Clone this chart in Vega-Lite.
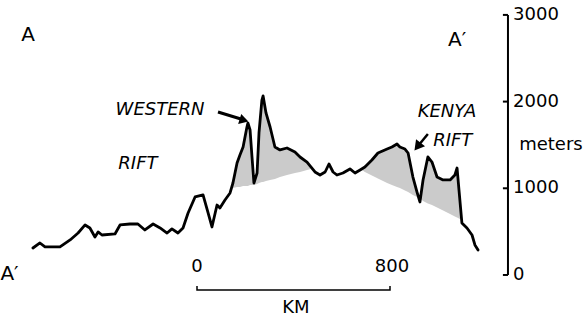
{
  "$schema": "https://vega.github.io/schema/vega-lite/v6.json",
  "width": 585,
  "height": 321,
  "padding": 0,
  "autosize": {"type": "none"},
  "background": "white",
  "config": {"view": {"stroke": null}},
  "datasets": {
    "profile": [
      {"km": -680, "m": 311}, {"km": -651, "m": 369}, {"km": -630, "m": 323}, {"km": -568, "m": 323},
      {"km": -526, "m": 404}, {"km": -493, "m": 484}, {"km": -464, "m": 577}, {"km": -444, "m": 542},
      {"km": -423, "m": 438}, {"km": -410, "m": 496}, {"km": -394, "m": 461}, {"km": -340, "m": 473},
      {"km": -319, "m": 577}, {"km": -278, "m": 588}, {"km": -245, "m": 588}, {"km": -216, "m": 519},
      {"km": -182, "m": 588}, {"km": -153, "m": 542}, {"km": -124, "m": 484}, {"km": -104, "m": 531},
      {"km": -79, "m": 484}, {"km": -58, "m": 542}, {"km": -37, "m": 715}, {"km": -8, "m": 900},
      {"km": 25, "m": 923}, {"km": 46, "m": 715}, {"km": 62, "m": 554}, {"km": 83, "m": 807},
      {"km": 95, "m": 773}, {"km": 116, "m": 865}, {"km": 137, "m": 946}, {"km": 149, "m": 1061},
      {"km": 166, "m": 1292}, {"km": 178, "m": 1384}, {"km": 191, "m": 1476}, {"km": 207, "m": 1707},
      {"km": 211, "m": 1753}, {"km": 220, "m": 1672}, {"km": 228, "m": 1361}, {"km": 236, "m": 1061},
      {"km": 249, "m": 1176}, {"km": 257, "m": 1638}, {"km": 269, "m": 2018}, {"km": 274, "m": 2065},
      {"km": 286, "m": 1869}, {"km": 303, "m": 1707}, {"km": 323, "m": 1476}, {"km": 344, "m": 1442},
      {"km": 373, "m": 1465}, {"km": 406, "m": 1419}, {"km": 427, "m": 1361}, {"km": 456, "m": 1303},
      {"km": 489, "m": 1188}, {"km": 510, "m": 1153}, {"km": 531, "m": 1188}, {"km": 547, "m": 1280},
      {"km": 564, "m": 1188}, {"km": 580, "m": 1153}, {"km": 605, "m": 1176}, {"km": 634, "m": 1223},
      {"km": 655, "m": 1176}, {"km": 676, "m": 1211}, {"km": 696, "m": 1246}, {"km": 725, "m": 1326},
      {"km": 750, "m": 1407}, {"km": 788, "m": 1453}, {"km": 808, "m": 1476}, {"km": 829, "m": 1511},
      {"km": 841, "m": 1476}, {"km": 862, "m": 1453}, {"km": 875, "m": 1407}, {"km": 895, "m": 1130},
      {"km": 912, "m": 957}, {"km": 924, "m": 842}, {"km": 937, "m": 1096}, {"km": 957, "m": 1361},
      {"km": 974, "m": 1303}, {"km": 995, "m": 1130}, {"km": 1020, "m": 1096}, {"km": 1049, "m": 1096},
      {"km": 1069, "m": 1153}, {"km": 1078, "m": 1234}, {"km": 1086, "m": 980}, {"km": 1098, "m": 600},
      {"km": 1119, "m": 542}, {"km": 1140, "m": 461}, {"km": 1152, "m": 346}, {"km": 1165, "m": 288}
    ],
    "shade": [
      {"seg": "W", "km": 141, "top": 1003, "bottom": 1003},
      {"seg": "W", "km": 149, "top": 1061, "bottom": 1003},
      {"seg": "W", "km": 166, "top": 1292, "bottom": 1015},
      {"seg": "W", "km": 178, "top": 1384, "bottom": 1015},
      {"seg": "W", "km": 191, "top": 1476, "bottom": 1027},
      {"seg": "W", "km": 207, "top": 1707, "bottom": 1027},
      {"seg": "W", "km": 211, "top": 1753, "bottom": 1027},
      {"seg": "W", "km": 220, "top": 1672, "bottom": 1038},
      {"seg": "W", "km": 228, "top": 1361, "bottom": 1038},
      {"seg": "W", "km": 236, "top": 1061, "bottom": 1038},
      {"seg": "W", "km": 249, "top": 1176, "bottom": 1050},
      {"seg": "W", "km": 257, "top": 1638, "bottom": 1061},
      {"seg": "W", "km": 269, "top": 2018, "bottom": 1073},
      {"seg": "W", "km": 274, "top": 2065, "bottom": 1073},
      {"seg": "W", "km": 286, "top": 1869, "bottom": 1084},
      {"seg": "W", "km": 303, "top": 1707, "bottom": 1096},
      {"seg": "W", "km": 323, "top": 1476, "bottom": 1107},
      {"seg": "W", "km": 344, "top": 1442, "bottom": 1130},
      {"seg": "W", "km": 373, "top": 1465, "bottom": 1153},
      {"seg": "W", "km": 406, "top": 1419, "bottom": 1176},
      {"seg": "W", "km": 427, "top": 1361, "bottom": 1188},
      {"seg": "W", "km": 456, "top": 1303, "bottom": 1211},
      {"seg": "W", "km": 472, "top": 1223, "bottom": 1223},
      {"seg": "C", "km": 684, "top": 1210, "bottom": 1210},
      {"seg": "C", "km": 696, "top": 1246, "bottom": 1188},
      {"seg": "C", "km": 725, "top": 1326, "bottom": 1148},
      {"seg": "C", "km": 750, "top": 1407, "bottom": 1113},
      {"seg": "C", "km": 788, "top": 1453, "bottom": 1061},
      {"seg": "C", "km": 808, "top": 1476, "bottom": 1038},
      {"seg": "C", "km": 829, "top": 1511, "bottom": 1015},
      {"seg": "C", "km": 841, "top": 1476, "bottom": 1003},
      {"seg": "C", "km": 862, "top": 1453, "bottom": 975},
      {"seg": "C", "km": 875, "top": 1407, "bottom": 957},
      {"seg": "C", "km": 895, "top": 1130, "bottom": 923},
      {"seg": "C", "km": 912, "top": 957, "bottom": 900},
      {"seg": "C", "km": 920, "top": 888, "bottom": 888},
      {"seg": "K", "km": 928, "top": 877, "bottom": 877},
      {"seg": "K", "km": 937, "top": 1096, "bottom": 854},
      {"seg": "K", "km": 957, "top": 1361, "bottom": 825},
      {"seg": "K", "km": 974, "top": 1303, "bottom": 807},
      {"seg": "K", "km": 995, "top": 1130, "bottom": 779},
      {"seg": "K", "km": 1020, "top": 1096, "bottom": 744},
      {"seg": "K", "km": 1049, "top": 1096, "bottom": 704},
      {"seg": "K", "km": 1069, "top": 1153, "bottom": 675},
      {"seg": "K", "km": 1078, "top": 1234, "bottom": 663},
      {"seg": "K", "km": 1086, "top": 980, "bottom": 652},
      {"seg": "K", "km": 1094, "top": 727, "bottom": 640},
      {"seg": "K", "km": 1098, "top": 625, "bottom": 625}
    ],
    "scalebar": [
      {"i": 1, "km": 0, "m": -127},
      {"i": 2, "km": 0, "m": -173},
      {"i": 3, "km": 800, "m": -173},
      {"i": 4, "km": 800, "m": -127}
    ],
    "axisline": [{"km": 1289, "lo": 0, "hi": 3000}],
    "ticks": [{"v": 0}, {"v": 1000}, {"v": 2000}, {"v": 3000}],
    "bigletters": [
      {"t": "A", "km": -700, "m": 2768},
      {"t": "A′", "km": 1078, "m": 2710}
    ],
    "edgeletter": [
      {"t": "A′", "km": -815, "m": 12}
    ],
    "plain": [
      {"t": "0", "km": 0, "m": 92},
      {"t": "800", "km": 808, "m": 92},
      {"t": "KM", "km": 410, "m": -381},
      {"t": "meters", "km": 1467, "m": 1499}
    ],
    "italic": [
      {"t": "WESTERN", "km": -153, "m": 1903},
      {"t": "RIFT", "km": -245, "m": 1280},
      {"t": "KENYA", "km": 1036, "m": 1880},
      {"t": "RIFT", "km": 1060, "m": 1546}
    ],
    "arrow1": [{"x1": 87, "y1": 1880, "x2": 182, "y2": 1799}],
    "head1": [{"km": 195, "m": 1785}],
    "arrow2": [{"x1": 957, "y1": 1626, "x2": 916, "y2": 1488}],
    "head2": [{"km": 914, "m": 1480}]
  },
  "layer": [
    {
      "data": {"name": "shade"},
      "mark": {"type": "area", "color": "#cbcbcb", "interpolate": "linear"},
      "encoding": {
        "x": {"field": "km", "type": "quantitative", "scale": {"domain": [-816.6, 1608.3], "nice": false, "zero": false}, "axis": null},
        "y": {"field": "top", "type": "quantitative", "scale": {"domain": [-531, 3172], "nice": false, "zero": false}, "axis": null},
        "y2": {"field": "bottom"},
        "detail": {"field": "seg", "type": "nominal"}
      }
    },
    {
      "data": {"name": "profile"},
      "mark": {"type": "line", "color": "black", "strokeWidth": 2.8, "strokeJoin": "round", "strokeCap": "round"},
      "encoding": {
        "x": {"field": "km", "type": "quantitative", "axis": null},
        "y": {"field": "m", "type": "quantitative", "axis": null}
      }
    },
    {
      "data": {"name": "axisline"},
      "mark": {"type": "rule", "color": "black", "strokeWidth": 2},
      "encoding": {
        "x": {"field": "km", "type": "quantitative", "axis": null},
        "y": {"field": "lo", "type": "quantitative", "axis": null},
        "y2": {"field": "hi"}
      }
    },
    {
      "data": {"name": "ticks"},
      "mark": {"type": "rule", "color": "black", "strokeWidth": 2},
      "encoding": {
        "x": {"datum": 1268, "type": "quantitative", "axis": null},
        "x2": {"datum": 1289},
        "y": {"field": "v", "type": "quantitative", "axis": null}
      }
    },
    {
      "data": {"name": "ticks"},
      "mark": {"type": "text", "font": "DejaVu Sans", "fontSize": 18, "color": "black", "align": "left", "baseline": "middle"},
      "encoding": {
        "x": {"datum": 1310, "type": "quantitative", "axis": null},
        "y": {"field": "v", "type": "quantitative", "axis": null},
        "text": {"field": "v", "type": "quantitative", "format": "d"}
      }
    },
    {
      "data": {"name": "scalebar"},
      "mark": {"type": "line", "color": "black", "strokeWidth": 1.5},
      "encoding": {
        "x": {"field": "km", "type": "quantitative", "axis": null},
        "y": {"field": "m", "type": "quantitative", "axis": null},
        "order": {"field": "i", "type": "quantitative"}
      }
    },
    {
      "data": {"name": "arrow1"},
      "mark": {"type": "rule", "color": "black", "strokeWidth": 3},
      "encoding": {
        "x": {"field": "x1", "type": "quantitative", "axis": null},
        "y": {"field": "y1", "type": "quantitative", "axis": null},
        "x2": {"field": "x2"},
        "y2": {"field": "y2"}
      }
    },
    {
      "data": {"name": "head1"},
      "mark": {"type": "point", "shape": "triangle-right", "filled": true, "color": "black", "size": 110, "angle": 17, "opacity": 1},
      "encoding": {
        "x": {"field": "km", "type": "quantitative", "axis": null},
        "y": {"field": "m", "type": "quantitative", "axis": null}
      }
    },
    {
      "data": {"name": "arrow2"},
      "mark": {"type": "rule", "color": "black", "strokeWidth": 2.5},
      "encoding": {
        "x": {"field": "x1", "type": "quantitative", "axis": null},
        "y": {"field": "y1", "type": "quantitative", "axis": null},
        "x2": {"field": "x2"},
        "y2": {"field": "y2"}
      }
    },
    {
      "data": {"name": "head2"},
      "mark": {"type": "point", "shape": "triangle-right", "filled": true, "color": "black", "size": 130, "angle": 128, "opacity": 1},
      "encoding": {
        "x": {"field": "km", "type": "quantitative", "axis": null},
        "y": {"field": "m", "type": "quantitative", "axis": null}
      }
    },
    {
      "data": {"name": "bigletters"},
      "mark": {"type": "text", "font": "DejaVu Sans", "fontSize": 20, "color": "black", "align": "center", "baseline": "middle"},
      "encoding": {
        "x": {"field": "km", "type": "quantitative", "axis": null},
        "y": {"field": "m", "type": "quantitative", "axis": null},
        "text": {"field": "t"}
      }
    },
    {
      "data": {"name": "edgeletter"},
      "mark": {"type": "text", "font": "DejaVu Sans", "fontSize": 20, "color": "black", "align": "left", "baseline": "middle"},
      "encoding": {
        "x": {"field": "km", "type": "quantitative", "axis": null},
        "y": {"field": "m", "type": "quantitative", "axis": null},
        "text": {"field": "t"}
      }
    },
    {
      "data": {"name": "plain"},
      "mark": {"type": "text", "font": "DejaVu Sans", "fontSize": 18, "color": "black", "align": "center", "baseline": "middle"},
      "encoding": {
        "x": {"field": "km", "type": "quantitative", "axis": null},
        "y": {"field": "m", "type": "quantitative", "axis": null},
        "text": {"field": "t"}
      }
    },
    {
      "data": {"name": "italic"},
      "mark": {"type": "text", "font": "DejaVu Sans", "fontSize": 18, "fontStyle": "italic", "color": "black", "align": "center", "baseline": "middle"},
      "encoding": {
        "x": {"field": "km", "type": "quantitative", "axis": null},
        "y": {"field": "m", "type": "quantitative", "axis": null},
        "text": {"field": "t"}
      }
    }
  ]
}
